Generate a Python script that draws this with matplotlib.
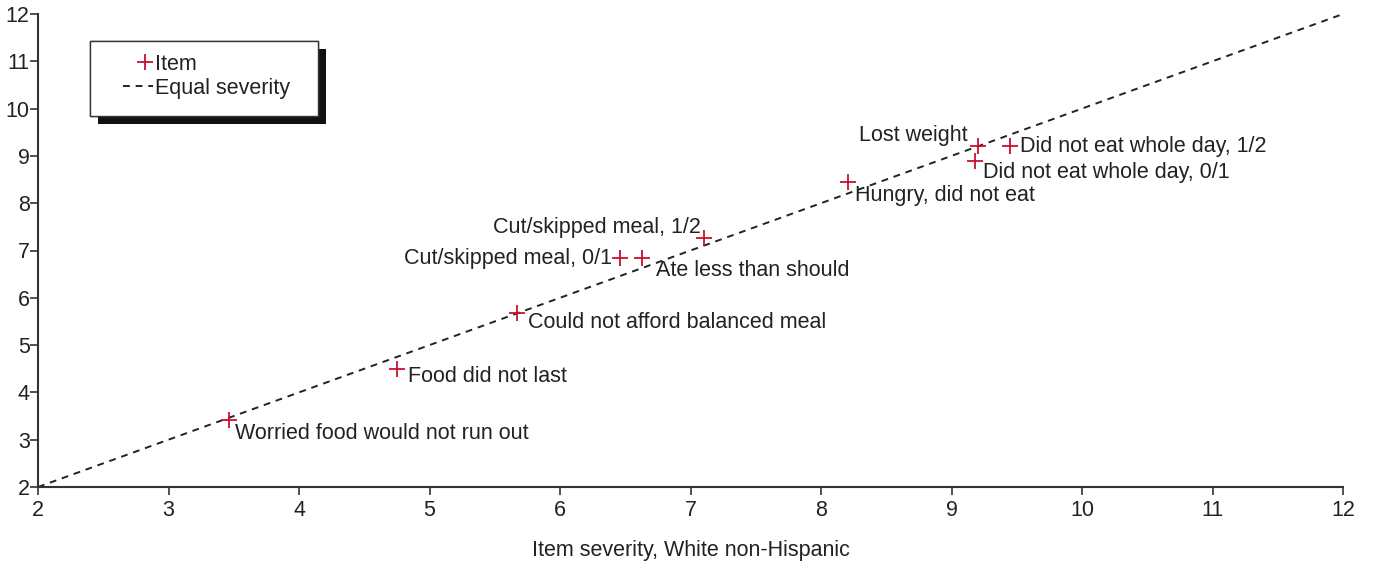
import matplotlib.pyplot as plt
import matplotlib.patheffects as pe
from matplotlib.patches import Rectangle
from matplotlib.legend_handler import HandlerLine2D

plt.rcParams['font.family'] = ['Liberation Sans', 'DejaVu Sans']

# severity of each item (White non-Hispanic on x, other group on y)
items = ['Worried food would not run out', 'Food did not last',
         'Could not afford balanced meal', 'Cut/skipped meal, 0/1',
         'Ate less than should', 'Cut/skipped meal, 1/2',
         'Hungry, did not eat', 'Lost weight',
         'Did not eat whole day, 0/1', 'Did not eat whole day, 1/2']
sev_white = [3.46, 4.75, 5.67, 6.46, 6.63, 7.10, 8.21, 9.20, 9.18, 9.45]
sev_other = [3.42, 4.49, 5.68, 6.84, 6.84, 7.26, 8.45, 9.20, 8.89, 9.20]

# label offsets in points (dx, dy, ha)
offsets = [(5, -10, 'left'), (8, -5, 'left'), (8, -7, 'left'),
           (-6, 0, 'right'), (10, -9, 'left'), (-2, 8, 'right'),
           (5, -10, 'left'), (-7, 8, 'right'), (6, -8, 'left'),
           (7, 0, 'left')]

txt = '#222222'
red = '#c8102e'
fs = 15.5
W, H = 1375, 566


class RightMarker(HandlerLine2D):
    # marker sits toward the right end of the legend handle
    def get_xdata(self, legend, xdescent, ydescent, width, height, fontsize):
        xd = [-xdescent + 0.46 * width, -xdescent + width]
        return xd, xd


fig = plt.figure(figsize=(W / 100, H / 100), dpi=100)
ax = fig.add_axes([38 / W, 1 - 487 / H, 1305 / W, 473 / H])

ax.plot([2, 12], [2, 12], ls=(0, (3.5, 3)), color='#222222', lw=1.4,
        label='Equal severity', clip_on=False, zorder=2)
ax.plot(sev_white, sev_other, ls='none', marker='+', ms=11, mew=1.3,
        color=red, label='Item', zorder=3)

for name, x, y, (dx, dy, ha) in zip(items, sev_white, sev_other, offsets):
    ax.annotate(name, (x, y), xytext=(dx, dy), textcoords='offset points',
                ha=ha, va='center', fontsize=fs, color=txt)

ax.set_xlim(2, 12)
ax.set_ylim(2, 12)
ax.set_xticks(range(2, 13))
ax.set_yticks(range(2, 13))
ax.tick_params(labelsize=fs, colors='#333333', labelcolor=txt, length=6,
               width=1.2, pad=3)
ax.tick_params(axis='y', pad=0)
for s in ['top', 'right']:
    ax.spines[s].set_visible(False)
for s in ['left', 'bottom']:
    ax.spines[s].set_linewidth(1.5)
    ax.spines[s].set_color('#333333')

ax.set_xlabel('Item severity, White non-Hispanic', fontsize=fs, color=txt,
              labelpad=14)

# legend box with drop shadow
box = Rectangle((90 / W, 1 - 116 / H), 228 / W, 75 / H, transform=fig.transFigure,
                facecolor='white', edgecolor='#333333', lw=1.0, zorder=5)
box.set_path_effects([pe.withSimplePatchShadow(offset=(6, -6), shadow_rgbFace='#111111', alpha=1.0),
                      pe.Normal()])
fig.patches.append(box)

h, l = ax.get_legend_handles_labels()
leg = fig.legend(h[::-1], l[::-1], loc='upper left',
                 bbox_to_anchor=(123 / W, 1 - 54 / H), bbox_transform=fig.transFigure,
                 fontsize=fs, frameon=False, handlelength=1.39, handletextpad=0.1,
                 borderpad=0, labelspacing=0.12, borderaxespad=0,
                 handler_map={h[1]: RightMarker(numpoints=1)})
leg.set_zorder(6)
for t in leg.get_texts():
    t.set_color(txt)

fig.savefig('out.png', dpi=100)
